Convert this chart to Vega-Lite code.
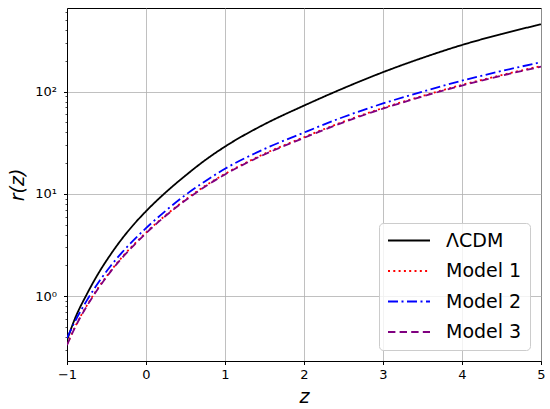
{
  "$schema": "https://vega.github.io/schema/vega-lite/v6.json",
  "width": 474,
  "height": 353,
  "autosize": {"type": "none"},
  "padding": {"left": 67, "top": 8, "right": 9, "bottom": 48},
  "config": {
    "font": "DejaVu Sans",
    "view": {"stroke": "black", "strokeWidth": 1},
    "axis": {
      "domainColor": "black",
      "tickColor": "black",
      "labelColor": "black",
      "labelFont": "DejaVu Sans",
      "labelFontSize": 13,
      "labelFlush": false,
      "titleFont": "DejaVu Sans",
      "titleFontSize": 19,
      "titleFontStyle": "italic",
      "titleFontWeight": "normal",
      "titleColor": "black",
      "gridColor": "#b0b0b0",
      "gridWidth": 0.8
    },
    "legend": {
      "orient": "bottom-right",
      "offset": 11,
      "labelFont": "DejaVu Sans",
      "labelFontSize": 19,
      "labelColor": "black",
      "labelLimit": 200,
      "labelOffset": 15,
      "symbolType": "stroke",
      "symbolSize": 1764,
      "symbolStrokeWidth": 1.8,
      "clipHeight": 19,
      "rowPadding": 10.5,
      "padding": 8,
      "fillColor": "rgba(255,255,255,0.8)",
      "strokeColor": "#cccccc",
      "cornerRadius": 4
    }
  },
  "data": {
    "values": [
      {"model": "ΛCDM", "z": -1, "r": 0.37},
      {"model": "ΛCDM", "z": -0.9, "r": 0.6},
      {"model": "ΛCDM", "z": -0.75, "r": 1.04},
      {"model": "ΛCDM", "z": -0.6, "r": 1.68},
      {"model": "ΛCDM", "z": -0.45, "r": 2.54},
      {"model": "ΛCDM", "z": -0.3, "r": 3.67},
      {"model": "ΛCDM", "z": -0.15, "r": 5.07},
      {"model": "ΛCDM", "z": 0, "r": 6.76},
      {"model": "ΛCDM", "z": 0.25, "r": 10.35},
      {"model": "ΛCDM", "z": 0.5, "r": 15.1},
      {"model": "ΛCDM", "z": 0.75, "r": 21.4},
      {"model": "ΛCDM", "z": 1, "r": 29},
      {"model": "ΛCDM", "z": 1.5, "r": 48},
      {"model": "ΛCDM", "z": 2, "r": 73},
      {"model": "ΛCDM", "z": 2.5, "r": 108},
      {"model": "ΛCDM", "z": 3, "r": 155},
      {"model": "ΛCDM", "z": 3.5, "r": 214},
      {"model": "ΛCDM", "z": 4, "r": 286},
      {"model": "ΛCDM", "z": 4.5, "r": 366},
      {"model": "ΛCDM", "z": 5, "r": 456},

      {"model": "Model 1", "z": -1, "r": 0.336},
      {"model": "Model 1", "z": -0.9, "r": 0.497},
      {"model": "Model 1", "z": -0.75, "r": 0.806},
      {"model": "Model 1", "z": -0.6, "r": 1.22},
      {"model": "Model 1", "z": -0.45, "r": 1.75},
      {"model": "Model 1", "z": -0.3, "r": 2.42},
      {"model": "Model 1", "z": -0.15, "r": 3.21},
      {"model": "Model 1", "z": 0, "r": 4.18},
      {"model": "Model 1", "z": 0.25, "r": 6.19},
      {"model": "Model 1", "z": 0.5, "r": 8.78},
      {"model": "Model 1", "z": 0.75, "r": 12.0},
      {"model": "Model 1", "z": 1, "r": 15.7},
      {"model": "Model 1", "z": 1.5, "r": 24.7},
      {"model": "Model 1", "z": 2, "r": 35.8},
      {"model": "Model 1", "z": 2.5, "r": 50.9},
      {"model": "Model 1", "z": 3, "r": 69.2},
      {"model": "Model 1", "z": 3.5, "r": 90.8},
      {"model": "Model 1", "z": 4, "r": 116.5},
      {"model": "Model 1", "z": 4.5, "r": 145.3},
      {"model": "Model 1", "z": 5, "r": 178},

      {"model": "Model 2", "z": -1, "r": 0.389},
      {"model": "Model 2", "z": -0.9, "r": 0.562},
      {"model": "Model 2", "z": -0.75, "r": 0.902},
      {"model": "Model 2", "z": -0.6, "r": 1.365},
      {"model": "Model 2", "z": -0.45, "r": 1.96},
      {"model": "Model 2", "z": -0.3, "r": 2.69},
      {"model": "Model 2", "z": -0.15, "r": 3.57},
      {"model": "Model 2", "z": 0, "r": 4.62},
      {"model": "Model 2", "z": 0.25, "r": 6.84},
      {"model": "Model 2", "z": 0.5, "r": 9.77},
      {"model": "Model 2", "z": 0.75, "r": 13.3},
      {"model": "Model 2", "z": 1, "r": 17.6},
      {"model": "Model 2", "z": 1.5, "r": 27.5},
      {"model": "Model 2", "z": 2, "r": 39.8},
      {"model": "Model 2", "z": 2.5, "r": 56.5},
      {"model": "Model 2", "z": 3, "r": 76.6},
      {"model": "Model 2", "z": 3.5, "r": 100},
      {"model": "Model 2", "z": 4, "r": 128},
      {"model": "Model 2", "z": 4.5, "r": 159},
      {"model": "Model 2", "z": 5, "r": 194},

      {"model": "Model 3", "z": -1, "r": 0.331},
      {"model": "Model 3", "z": -0.9, "r": 0.49},
      {"model": "Model 3", "z": -0.75, "r": 0.794},
      {"model": "Model 3", "z": -0.6, "r": 1.2},
      {"model": "Model 3", "z": -0.45, "r": 1.726},
      {"model": "Model 3", "z": -0.3, "r": 2.38},
      {"model": "Model 3", "z": -0.15, "r": 3.16},
      {"model": "Model 3", "z": 0, "r": 4.12},
      {"model": "Model 3", "z": 0.25, "r": 6.1},
      {"model": "Model 3", "z": 0.5, "r": 8.65},
      {"model": "Model 3", "z": 0.75, "r": 11.8},
      {"model": "Model 3", "z": 1, "r": 15.5},
      {"model": "Model 3", "z": 1.5, "r": 24.3},
      {"model": "Model 3", "z": 2, "r": 35.3},
      {"model": "Model 3", "z": 2.5, "r": 50.1},
      {"model": "Model 3", "z": 3, "r": 68.2},
      {"model": "Model 3", "z": 3.5, "r": 89.5},
      {"model": "Model 3", "z": 4, "r": 114.8},
      {"model": "Model 3", "z": 4.5, "r": 143.2},
      {"model": "Model 3", "z": 5, "r": 175.4}
    ]
  },
  "mark": {"type": "line", "strokeWidth": 1.8, "interpolate": "monotone", "clip": true},
  "encoding": {
    "x": {
      "field": "z",
      "type": "quantitative",
      "scale": {"domain": [-1, 5], "nice": false, "zero": false},
      "axis": {
        "values": [-1, 0, 1, 2, 3, 4, 5],
        "grid": true,
        "tickSize": 3.5,
        "labelPadding": 4,
        "title": "z",
        "titleY": 41,
        "titleBaseline": "alphabetic"
      }
    },
    "y": {
      "field": "r",
      "type": "quantitative",
      "scale": {"type": "log", "domain": [0.2317, 658], "nice": false},
      "axis": {
        "values": [0.3, 0.4, 0.5, 0.6, 0.7, 0.8, 0.9, 1, 2, 3, 4, 5, 6, 7, 8, 9, 10, 20, 30, 40, 50, 60, 70, 80, 90, 100, 200, 300, 400, 500, 600],
        "labelExpr": "datum.value == 1 ? '10⁰' : datum.value == 10 ? '10¹' : datum.value == 100 ? '10²' : ''",
        "grid": true,
        "gridOpacity": {"condition": {"test": "datum.value == 1 || datum.value == 10 || datum.value == 100", "value": 1}, "value": 0},
        "tickSize": {"condition": {"test": "datum.value == 1 || datum.value == 10 || datum.value == 100", "value": 3.5}, "value": 2},
        "tickWidth": {"condition": {"test": "datum.value == 1 || datum.value == 10 || datum.value == 100", "value": 1}, "value": 0.7},
        "labelPadding": 7,
        "title": "r(z)",
        "titleX": -50,
        "titleBaseline": "middle"
      }
    },
    "color": {
      "field": "model",
      "type": "nominal",
      "title": null,
      "scale": {"domain": ["ΛCDM", "Model 1", "Model 2", "Model 3"], "range": ["black", "red", "blue", "purple"]}
    },
    "strokeDash": {
      "field": "model",
      "type": "nominal",
      "title": null,
      "scale": {"domain": ["ΛCDM", "Model 1", "Model 2", "Model 3"], "range": [[1, 0], [2, 3.3], [10, 3.5, 2, 3.5], [7.4, 4.2]]}
    }
  }
}
